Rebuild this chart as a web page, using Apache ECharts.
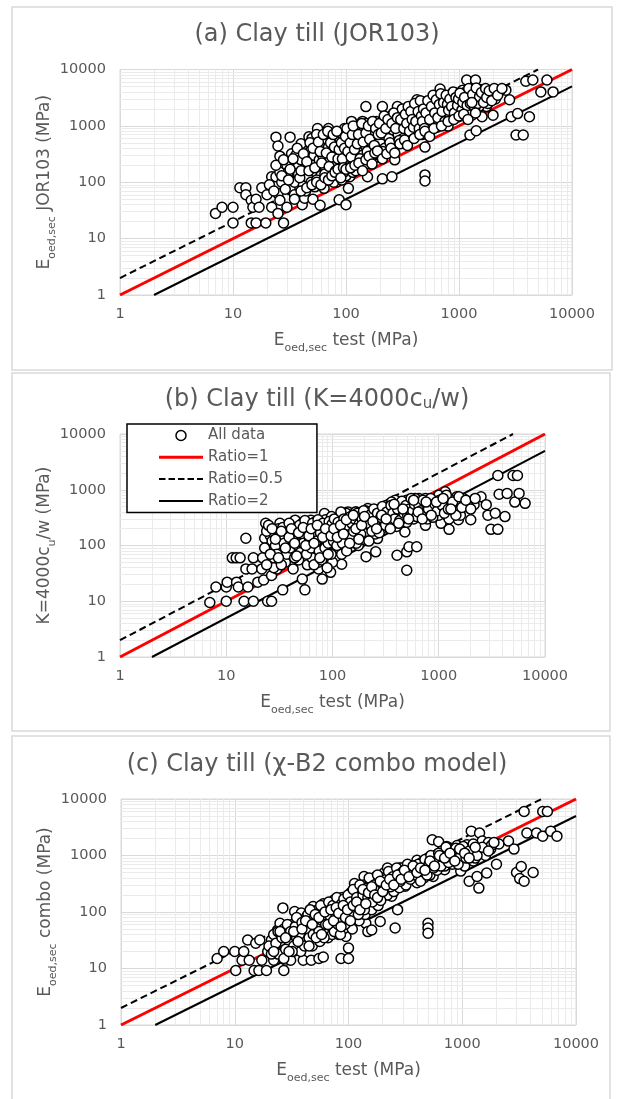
<!DOCTYPE html>
<html><head><meta charset="utf-8">
<script src="https://cdn.jsdelivr.net/npm/echarts@6/dist/echarts.min.js"></script>
<style>html,body{margin:0;padding:0;background:#fff;}#c{width:617px;height:1099px;}</style>
</head><body><div id="c"></div>
<script>
// ---------- data ----------
const axisTicks = [1, 10, 100, 1000, 10000];
const minorTicks = [2,3,4,5,6,7,8,9,20,30,40,50,60,70,80,90,200,300,400,500,600,700,800,900,2000,3000,4000,5000,6000,7000,8000,9000];
const ratio1 = [[1,1],[10000,10000]];
const ratio05 = [[1,2],[5000,10000]];
const ratio2 = [[2,1],[10000,5000]];

const ptsA = [
[7,28],[8,36],[10,19],[10,36],[11.5,80],[13,80],[13,60],[14.5,48],[15,36],[14.5,19],[16,19],[16,50],[17,36],[18,80],[19.5,19],[20,60],[22,36],[22,125],[24,125],[24,630],[25,440],[26,290],[26,150],[27,100],[25,63],[26,48],[28,19],[25,28],[30,36],[32,630],[33,320],[33,200],[34,110],[32,78],[36,150],[38,200],[40,480],[41,40],[43,52],[45,135],[47,640],[49,290],[51,50],[53,83],[56,900],[56,140],[57,430],[59,39],[62,210],[64,78],[70,900],[73,140],[76,370],[80,640],[82,100],[87,49],[90,165],[94,250],[97,900],[100,40],[100,490],[105,78],[108,125],[112,1200],[118,320],[128,600],[140,1200],[150,2200],[155,125],[160,400],[175,1200],[190,280],[210,115],[210,2200],[225,650],[245,1200],[255,125],[270,250],[285,2200],[285,480],[310,1200],[340,650],[380,1900],[425,2900],[460,1200],[500,420],[500,135],[500,105],[540,1900],[590,1100],[640,950],[680,4500],[720,2900],[800,1000],[880,2200],[990,1450],[1080,4300],[1170,6500],[1250,690],[1300,1550],[1400,6500],[1420,820],[1480,4300],[1600,1450],[1750,2200],[1950,3300],[2000,1550],[2200,4300],[2600,4300],[2800,2900],[2900,1450],[3200,690],[3300,1650],[3700,690],[3900,6200],[4200,1450],[4500,6500],[5300,4000],[6000,6500],[6800,4000],
[30,200],[31,150],[35,100],[36,300],[38,140],[40,250],[42,90],[44,180],[46,120],[48,350],[50,200],[50,600],[52,300],[54,150],[55,700],[58,250],
[60,500],[60,130],[62,300],[65,600],[66,180],[68,110],[70,420],[72,250],[74,160],[76,550],[78,100],[80,300],[82,200],[84,450],[86,130],[88,600],[90,350],[92,110],[94,700],[96,200],[98,550],[100,300],[100,130],
[105,650],[108,200],[110,400],[112,900],[115,150],[118,550],[120,250],[124,800],[128,350],[130,1000],[132,180],[136,600],[140,300],[144,850],[148,450],[152,1100],[156,650],[160,220],[165,900],[170,500],[175,300],[180,750],[185,1200],[190,600],[195,400],[200,900],[200,550],
[210,1200],[215,700],[220,400],[230,1000],[240,600],[250,1500],[260,850],[270,450],[280,1200],[290,700],[300,1700],[310,1000],[320,600],[330,1300],[340,2000],[350,850],[360,1500],[370,1100],[380,700],[390,2200],[400,1200],[410,1700],[420,900],[430,2400],[440,1400],[450,1100],[460,2000],[470,700],[480,1600],[490,2600],
[500,1200],[520,2200],[540,900],[560,1600],[580,3000],[600,1300],[620,2000],[640,2600],[660,1100],[680,1700],[700,2300],[720,3300],[740,1400],[760,2000],[780,3000],[800,1600],[820,2500],[850,3500],[880,1300],[900,2800],[930,1900],[960,3800],[1000,2500],[1000,1700],
[1050,3500],[1100,2000],[1150,4000],[1200,2700],[1250,3300],[1300,1900],[1350,4200],[1400,2800],[1450,3600],[1500,2200],[1550,4400],[1600,3000],[1700,3800],[1800,2500],[1900,3300],[2000,4000],[2100,3000],[2300,4200],
[21,90],[23,70],[24,200],[27,130],[28,250],[29,75],[31,110],[32,170],[34,260],[35,60],[37,400],[39,120],[40,160],[42,320],[44,70],[45,230],[47,160],[48,500],[49,100],
[51,400],[53,180],[55,110],[57,520],[59,350],[61,220],[63,700],[65,140],[67,330],[69,800],[71,190],[73,500],[75,280],[77,700],[79,420],[81,160],[83,800],[85,260],[87,380],[89,170],[91,500],[93,260],[95,150],[97,400],[99,650],
[102,900],[104,350],[106,180],[109,500],[111,280],[114,700],[116,1000],[119,380],[122,160],[126,480],[129,700],[133,260],[138,1100],[142,520],[146,200],[150,750],[154,350],[158,1000],[162,580],[168,280],[172,1200],[178,450],[183,900],[188,320],[193,700],[198,1100],
[205,750],[212,350],[218,1500],[225,900],[235,1300],[245,500],[255,1100],[265,1700],[275,900],[285,1400],[295,550],[305,1300],[315,2000],[325,900],[335,1600],[345,1100],[355,2200],[365,800],[375,1800],[385,1300],[395,950],[405,2500],[415,1200],[435,1800],[445,900],[455,2800],[465,1500],[475,1200],[485,2000],[495,900],
[510,1700],[530,2800],[550,1300],[570,2200],[590,3500],[610,1700],[630,2900],[650,1400],[670,2400],[690,3700],[710,1800],[730,2600],[750,1200],[770,3500],[790,2400],[810,1900],[830,3000],[860,2200],[890,4000],[910,1700],[940,3200],[970,2300],[990,3000],
[1020,3800],[1060,1900],[1080,2600],[1120,3200],[1160,1700],[1180,2300],[1220,4600],[1260,2500],[1320,3600],[1380,2100],[1420,4700],[1460,2500],[1520,3300],[1580,3900],[1650,2600],[1720,4600],[1760,3200],[1850,4200],[1950,2800],[2050,4600],[2200,3500],[2400,4600],
[35,50],[40,70],[45,80],[50,90],[55,100],[60,90],[65,120],[70,110],[75,130],[80,150],[85,170],[90,120],[95,180],[100,170],[110,180],[120,200],[130,220],[140,160],[150,250],[160,290],[170,210],[180,330],[190,360],[210,260],[230,320],[250,400],[270,330],[300,480],[330,560],[350,450],[400,600],[450,700],[500,800],[550,650],[600,900],[700,1000],[800,1200],[900,1300],[1000,1500],[1100,1600],[1200,1300],[1300,2600],[1400,1700]
];

const ptsB = [
[7,9.5],[8,18],[10,10],[10,18],[10.2,22],[11.4,60],[12.4,60],[13.5,60],[12.5,22],[13,18],[14.7,10],[15.3,135],[15.3,38],[16,18],[18,60],[17.5,38],[18,10],[19.8,22],[21.6,38],[22.5,24],[23,135],[23.5,250],[24.5,10],[26.7,10],[26.7,29],[27.8,77],[29,175],[30,38],[32,250],[34,16],[34.5,88],[37.5,133],[42.6,38],[44.5,285],[48.5,133],[52,25],[55,16],[58,58],[62.7,285],[65,175],[68,77],[74,38],[80,25],[84,375],[88,133],[92,77],[96,33],[100,200],[109,300],[113,55],[122,46],[122,133],[135,152],[140,400],[153,270],[167,400],[175,100],[190,175],[207,270],[207,63],[215,460],[235,140],[255,77],[265,133],[280,270],[300,350],[330,460],[360,230],[390,650],[405,67],[440,400],[480,175],[500,650],[500,77],[500,36],[525,95],[600,400],[620,95],[650,700],[750,230],[800,650],[880,400],[960,700],[1050,250],[1150,920],[1250,195],[1360,460],[1480,750],[1530,290],[1660,600],[1800,550],[2000,290],[2150,540],[2500,750],[2800,540],[2900,350],[3100,195],[3400,380],[3600,1800],[3600,195],[3700,830],[4200,330],[4400,860],[5000,1800],[5200,600],[5500,1800],[5700,860],[6500,570],
[25,90],[26,150],[28,60],[30,120],[31,200],[33,80],[35,160],[36,50],[38,110],[40,230],[41,70],[43,140],[45,90],[46,200],[48,55],[50,120],[52,250],[54,80],[56,170],[58,45],[60,110],[62,220],[64,60],[66,140],[68,260],[70,95],[72,180],[74,50],[76,120],[78,230],[80,70],[82,160],[84,100],[86,290],[88,60],[90,140],[92,210],[94,85],[96,120],[98,330],[100,50],[100,160],
[105,240],[108,90],[112,190],[115,130],[118,310],[122,70],[126,220],[130,150],[134,380],[138,100],[142,260],[146,170],[150,330],[155,120],[160,230],[165,400],[170,150],[175,280],[180,200],[186,350],[192,130],[198,250],
[205,420],[210,180],[220,300],[230,220],[240,380],[250,160],[260,330],[270,240],[280,450],[290,200],[300,380],[310,290],[320,520],[330,250],[340,400],[350,330],[360,600],[375,280],[390,470],[400,220],[420,350],[440,550],[460,300],[480,450],[500,260],
[520,620],[540,380],[560,500],[580,300],[600,700],[630,450],[660,350],[690,580],[720,480],[750,700],[780,300],[820,550],[860,450],[900,650],[950,500],[1000,800],[1000,350],[1050,600],[1100,450],[1150,700],[1200,550],[1250,300],[1300,650],[1400,450],[1500,600],[1600,350],[1700,700],[1900,500],
[24,180],[25,230],[27,120],[28,40],[29,100],[30,70],[32,140],[33,45],[34,210],[35,110],[37,70],[38,170],[39,250],[40,90],[42,130],[44,60],[45,180],[47,100],[49,230],[50,75],[51,160],[53,110],[55,280],[57,70],[59,190],[61,130],[63,90],[65,250],[67,45],[69,160],[71,120],[73,290],[75,80],[77,170],[79,55],[81,250],[83,130],[85,90],[87,200],[89,40],[91,110],[93,270],[95,170],[97,70],[99,240],
[102,120],[104,300],[107,180],[110,100],[113,260],[117,160],[120,400],[124,110],[128,300],[132,190],[136,80],[140,230],[144,320],[148,140],[152,250],[158,180],[162,300],[168,110],[172,380],[178,240],[184,160],[190,300],[196,420],
[215,250],[225,350],[235,180],[245,450],[255,280],[265,380],[275,170],[285,320],[295,500],[315,230],[325,400],[345,290],[355,520],[370,380],[385,300],[410,450],[430,280],[450,620],[470,380],[490,520],
[510,350],[530,450],[550,700],[570,420],[590,550],[620,330],[650,520],[680,420],[710,650],[740,380],[770,550],[800,450],[840,700],[880,320],[920,550],[970,420],[1020,650],[1080,520],[1130,380],[1180,800],[1230,450],[1350,600],[1450,350],[1550,750],[1650,480],[1800,650],[2000,450],[2200,700],
[22,60],[23,90],[24,45],[26,70],[27,200],[29,130],[31,60],[33,180],[36,90],[39,140],[41,200],[44,110],[46,65],[48,170],[53,210],[56,100],[60,150],[63,200],[67,110],[72,230],[76,60],[81,140],[86,200],[91,70],[97,150],[103,200],[111,140],[119,230],[127,160],[135,290],[145,110],[157,350],[166,200],[177,130],[188,230],[200,330],[220,120],[240,270],[260,200],[290,350],[320,300],[350,200],[380,550],[420,250],[460,450],[520,300],[580,650],[640,400],[700,300],[760,600],[850,350],[950,600],[1100,700],[1300,450]
];

const ptsC = [
[7,15],[8,20],[10,20],[10.2,9.2],[11.6,14],[12,20],[13,32],[13.4,14],[14.8,9.2],[15.3,28],[16.3,9.2],[16.6,32],[17.3,14],[19,9.2],[19.5,20],[21,32],[22,14],[23.8,48],[25,63],[26.5,118],[27,9.2],[26.5,20],[28,14],[30,28],[31,14],[33.6,102],[35.5,48],[37,24],[38.5,96],[40,14],[41.5,48],[43,83],[47,14],[48.8,125],[52.7,37],[55,15],[60,16],[60,83],[62,110],[70,48],[75,165],[82,73],[86,15],[92,125],[95,37],[100,23],[100,15],[103,190],[113,320],[117,83],[127,175],[137,425],[142,63],[148,45],[155,143],[160,48],[175,425],[182,215],[190,68],[205,490],[220,330],[220,600],[240,190],[257,52],[270,110],[282,600],[315,285],[355,490],[400,820],[415,350],[490,570],[500,63],[500,52],[500,42],[545,1900],[555,425],[620,1750],[650,820],[700,560],[730,1450],[790,820],[880,1200],[970,530],[1050,820],[1100,1550],[1150,350],[1200,2700],[1250,800],[1350,425],[1400,265],[1420,2500],[1500,1800],[1640,490],[1700,1700],[1780,1300],[2000,700],[2100,1600],[2550,1800],[2850,1300],[3000,500],[3300,640],[3200,390],[3500,350],[3500,6000],[3700,2500],[4200,500],[4500,2500],[5100,6000],[5600,6000],[5100,2200],[6000,2700],[6800,2200],
[20,25],[22,40],[24,18],[25,30],[27,50],[28,22],[30,40],[32,60],[33,25],[35,35],[36,70],[38,20],[40,45],[42,30],[44,90],[45,55],[48,25],[50,40],[52,70],[54,110],[56,30],[58,55],[60,140],[62,45],[64,90],[66,35],[68,120],[70,65],[72,40],[74,100],[76,150],[78,55],[80,85],[82,40],[84,120],[86,65],[88,180],[90,50],[92,100],[95,140],[98,60],[100,120],[102,80],
[105,220],[108,50],[112,150],[116,100],[120,260],[124,70],[128,180],[132,120],[136,300],[140,90],[145,200],[150,140],[155,350],[160,110],[165,230],[170,160],[176,380],[182,130],[188,250],[195,180],[200,400],
[210,280],[220,200],[230,450],[240,330],[250,230],[260,520],[270,370],[280,270],[290,600],[300,400],[320,300],[340,550],[360,420],[380,650],[400,330],[420,500],[440,750],[460,400],[480,600],[500,900],
[520,450],[550,700],[580,1000],[600,550],[630,800],[660,1200],[700,650],[740,950],[780,1300],[820,700],[860,1050],[900,1500],[950,800],[1000,1200],[1050,650],[1100,1000],[1200,1400],[1300,900],[1400,1200],[1600,1000],[1800,1500],
[21,18],[23,28],[24,45],[26,35],[27,15],[29,60],[31,45],[32,20],[34,55],[35,80],[37,40],[39,65],[41,25],[43,50],[45,35],[46,110],[47,70],[49,40],[51,90],[53,55],[55,45],[57,130],[59,70],[61,35],[63,60],[65,100],[67,150],[69,85],[71,55],[73,130],[75,45],[77,95],[79,180],[81,60],[83,100],[85,40],[87,140],[89,75],[91,170],[93,60],[96,90],[99,200],
[104,150],[107,90],[110,250],[114,120],[118,180],[122,90],[126,300],[130,150],[134,200],[138,110],[143,260],[148,180],[152,400],[157,220],[162,150],[168,300],[174,200],[180,450],[186,280],[192,160],[198,320],
[205,250],[215,380],[225,520],[235,280],[245,420],[255,330],[265,600],[275,450],[285,350],[295,500],[310,450],[330,700],[350,380],[370,550],[390,450],[410,700],[430,350],[450,580],[470,850],[490,450],
[510,700],[530,1000],[560,600],[590,800],[620,1100],[650,650],[680,950],[720,1400],[760,750],[800,1100],[840,900],[880,1350],[920,700],[970,1000],[1020,1450],[1080,900],[1150,1200],[1250,1600],[1350,1000],[1500,1400],[1700,1200],[1900,1700],
[22,20],[25,45],[28,35],[30,20],[33,45],[36,30],[39,50],[42,70],[45,25],[48,60],[52,35],[55,80],[58,40],[62,100],[66,60],[70,110],[74,70],[78,120],[82,95],[86,55],[90,130],[94,80],[98,110],[104,70],[110,130],[118,150],[126,110],[134,250],[142,140],[150,220],[160,280],[170,200],[180,180],[190,350],[200,230],[215,300],[230,380],[250,300],[270,450],[290,380],[310,550],[340,420],[370,650],[400,500],[430,600],[470,550],[520,800],[570,650],[630,1000],[700,900],[780,1100],[860,800],[950,1300],[1050,1100],[1150,900],[1300,1400]
];

const titles = ['(a) Clay till (JOR103)', '(b) Clay till (K=4000c{ts|u}/w)', '(c) Clay till (χ-B2 combo model)'];
const xNames = ['{m|E}{s|oed,sec}{m| test (MPa)}','{m|E}{s|oed,sec}{m| test (MPa)}','{m|E}{s|oed,sec}{m| test (MPa)}'];
const yNames = ['{m|E}{s|oed,sec}{m| JOR103 (MPa)}','{m|K=4000c}{s|u}{m|/w (MPa)}','{m|E}{s|oed,sec}{m| combo (MPa)}'];
const legendNames = ['All data', 'Ratio=1', 'Ratio=0.5', 'Ratio=2'];
const panelPts = [ptsA, ptsB, ptsC];

// ---------- layout ----------
const FONT = 'DejaVu Sans';
const GRAY = '#595959';
const grids = [
  {left:120, top:69.5, width:452, height:225.5},
  {left:120, top:434, width:425, height:223},
  {left:121, top:799, width:455, height:226}
];
const titleTops = [18, 383, 748];
const panels = [
  {x:12, y:7, w:600, h:363},
  {x:12, y:373, w:598, h:358},
  {x:12, y:736, w:598, h:380}
];

const richName = {
  m: {fontFamily: FONT, fontSize: 17, color: GRAY, padding: [0,0,5,0], verticalAlign: 'bottom'},
  s: {fontFamily: FONT, fontSize: 11, color: GRAY, verticalAlign: 'bottom'}
};
const ICON_SOLID_RED = 'path://M0,0M44,10M0,3.5L44,3.5L44,6.5L0,6.5Z';
const ICON_SOLID = 'path://M0,0M44,10M0,4L44,4L44,6L0,6Z';
const ICON_DASH = 'path://M0,0M44,10M0,4L6.5,4L6.5,6L0,6ZM9.5,4L16,4L16,6L9.5,6ZM19,4L25.5,4L25.5,6L19,6ZM28.5,4L35,4L35,6L28.5,6ZM38,4L44,4L44,6L38,6Z';
const labelFmt = v => String(Math.round(v));

const option = {
  animation: false,
  backgroundColor: '#fff',
  graphic: panels.map(p => ({type:'rect', silent:true, z:-10, shape:{x:p.x, y:p.y, width:p.w, height:p.h}, style:{fill:'#fff', stroke:'#d9d9d9', lineWidth:1.5}})),
  title: titles.map((t, i) => ({
    text: t, left: 312, top: titleTops[i], textAlign: 'center',
    textStyle: {fontFamily: FONT, fontSize: 24, fontWeight: 'normal', color: GRAY,
      rich: {ts: {fontFamily: FONT, fontSize: 15, color: GRAY, verticalAlign: 'bottom', padding:[9,0,0,0]}}}
  })),
  grid: grids.map(g => Object.assign({show:true, borderColor:'#d9d9d9', borderWidth:1, backgroundColor:'transparent'}, g)),
  legend: {
    data: [
      {name: legendNames[0], icon: 'circle', itemStyle: {color: '#fff', borderColor: '#000', borderWidth: 1.5}},
      {name: legendNames[1], icon: ICON_SOLID_RED, itemStyle: {color: '#ff0000', borderColor: '#ff0000', borderWidth: 0}},
      {name: legendNames[2], icon: ICON_DASH, itemStyle: {color: '#000', borderColor: '#000', borderWidth: 0}},
      {name: legendNames[3], icon: ICON_SOLID, itemStyle: {color: '#000', borderColor: '#000', borderWidth: 0}}
    ],
    orient: 'vertical', left: 127, top: 424, z: 10,
    backgroundColor: '#fff', borderColor: '#000', borderWidth: 1.5,
    padding: [4, 34, 4, 32], itemGap: 6.8, itemWidth: 44, itemHeight: 10,
    selectedMode: false,
    textStyle: {fontFamily: FONT, fontSize: 15, color: GRAY}
  },
  xAxis: grids.map((g, i) => ({
    type: 'log', logBase: 10, min: axisTicks[0], max: axisTicks[axisTicks.length-1], gridIndex: i,
    name: xNames[i], nameLocation: 'middle', nameGap: 37, nameMoveOverlap: false,
    nameTextStyle: {rich: richName},
    axisLine: {show: false}, axisTick: {show: false},
    axisLabel: {fontFamily: FONT, fontSize: 14.5, color: GRAY, margin: 12, formatter: labelFmt},
    splitLine: {show: true, lineStyle: {color: '#d9d9d9', width: 1}}
  })),
  yAxis: grids.map((g, i) => ({
    type: 'log', logBase: 10, min: axisTicks[0], max: axisTicks[axisTicks.length-1], gridIndex: i,
    name: yNames[i], nameLocation: 'middle', nameGap: 62, nameRotate: 90, nameMoveOverlap: false,
    nameTextStyle: {rich: richName},
    axisLine: {show: false}, axisTick: {show: false},
    axisLabel: {fontFamily: FONT, fontSize: 14.5, color: GRAY, margin: 14, formatter: labelFmt},
    splitLine: {show: true, lineStyle: {color: '#d9d9d9', width: 1}}
  })),
  series: []
};

panelPts.forEach((pts, i) => {
  option.series.push({
    type: 'scatter', xAxisIndex: i, yAxisIndex: i, data: [], silent: true, z: 0,
    markLine: {
      silent: true, symbol: ['none','none'], label: {show: false}, animation: false, z: 1,
      lineStyle: {color: '#ebebeb', width: 1, type: 'solid'},
      emphasis: {disabled: true},
      data: minorTicks.map(v => ({xAxis: v})).concat(minorTicks.map(v => ({yAxis: v})))
    }
  });
  option.series.push({name: legendNames[1], type: 'line', xAxisIndex: i, yAxisIndex: i, data: ratio1, symbol: 'none', showSymbol: false, z: 2,
    lineStyle: {color: '#ff0000', width: 3, type: 'solid'}, itemStyle: {color: '#ff0000'}, silent: true});
  option.series.push({name: legendNames[2], type: 'line', xAxisIndex: i, yAxisIndex: i, data: ratio05, symbol: 'none', showSymbol: false, z: 2,
    lineStyle: {color: '#000', width: 2, type: [7,4]}, itemStyle: {color: '#000'}, silent: true});
  option.series.push({name: legendNames[3], type: 'line', xAxisIndex: i, yAxisIndex: i, data: ratio2, symbol: 'none', showSymbol: false, z: 2,
    lineStyle: {color: '#000', width: 2, type: 'solid'}, itemStyle: {color: '#000'}, silent: true});
  option.series.push({name: legendNames[0], type: 'scatter', xAxisIndex: i, yAxisIndex: i, data: pts, z: 3,
    symbol: 'circle', symbolSize: 10, silent: true,
    itemStyle: {color: '#fff', borderColor: '#000', borderWidth: 1.5, opacity: 1}});
});

const chart = echarts.init(document.getElementById('c'), null, {renderer: 'canvas'});
chart.setOption(option);
</script>
</body></html>
